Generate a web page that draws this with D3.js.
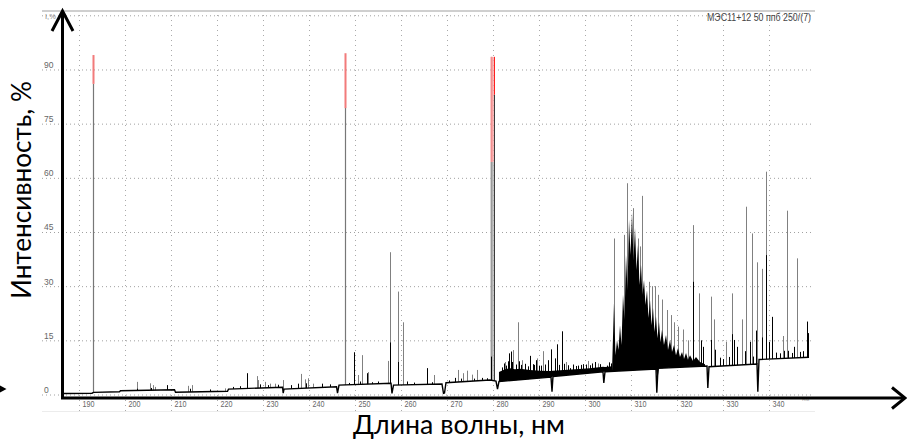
<!DOCTYPE html>
<html><head><meta charset="utf-8">
<script src="https://cdn.jsdelivr.net/npm/d3@7"></script>
<style>body{margin:0;background:#fff}svg{display:block}</style>
</head><body>
<svg id="c" width="907" height="439"></svg>
<script>
// ---- data (wavelength nm, intensity %) ----
const xTicks = [190,200,210,220,230,240,250,260,270,280,290,300,310,320,330,340];
const yTicks = [0,15,30,45,60,75,90];
const title = "МЭС11+12 50 ппб 250/(7)";
const yUnit = "I,%";
const xLabel = "Длина волны, нм";
const yLabel = "Интенсивность, %";

// continuum (baseline) of the spectrum
const baseline = [
 [186.74,0.28],[192.83,0.36],[193.15,0.6],[198.80,0.75],[199.02,1.05],[210.76,1.3],[210.98,0.64],
 [222.28,0.9],[222.50,1.5],[234.24,2.0],[234.39,0.4],[234.57,1.5],[245.98,2.15],[246.20,0.4],
 [246.52,2.6],[257.83,3.1],[258.04,0.33],[258.37,2.6],[268.91,2.9],[269.24,0.33],[269.46,0.4],
 [269.78,3.27],[279.35,4.0],[280.65,3.7],[280.98,1.5],[281.30,3.6],[292.61,4.8],[292.83,0.8],
 [293.04,5.0],[303.91,6.3],[304.09,3.2],[304.35,6.3],[315.43,7.06],[315.61,0.5],[315.87,7.25],
 [326.52,7.9],[326.70,1.8],[326.96,7.7],[337.39,8.45],[337.57,0.8],[337.83,9.7],[348.70,10.3]
];
// upper edge of dense weak lines 281–306 nm
const noiseTop = [
 [281.30,6.2],[282.61,7.0],[283.70,7.3],[284.78,7.0],[285.87,7.1],[288.04,6.8],[290.22,6.6],
 [292.39,6.5],[293.04,6.6],[294.57,6.7],[297.83,7.0],[301.09,7.3],[303.91,7.7],[304.35,7.6],[305.87,7.8]
];
// OH band envelope 306–326 nm
const ohBand = [
 [305.87,6.5],[306.30,25.3],[306.63,10.9],[306.96,15.1],[307.28,12.3],[307.61,19.2],[307.93,13.7],
 [308.26,27.6],[308.59,20.6],[308.91,38.6],[309.24,28.9],[309.57,48.3],[309.89,38.6],[310.22,50.3],
 [310.54,37.2],[310.87,46.1],[311.20,34.5],[311.52,41.4],[311.85,30.3],[312.17,35.9],[312.50,27.6],
 [312.83,31.7],[313.15,24.8],[313.48,28.9],[313.80,21.2],[314.13,26.2],[314.46,19.2],[314.78,24.0],
 [315.11,17.3],[315.43,21.7],[315.76,15.6],[316.09,20.1],[316.41,14.5],[316.74,17.9],[317.17,13.7],
 [317.61,16.5],[318.04,12.3],[318.48,15.1],[318.91,11.8],[319.35,13.7],[319.78,10.9],[320.22,12.9],
 [320.65,10.4],[321.09,11.8],[321.52,9.8],[321.96,11.5],[322.39,9.6],[322.83,10.9],[323.48,9.3],
 [324.13,10.4],[325.00,9.0],[326.09,8.4]
];
// lines of the grey spectrum
const grayPeaks = [
 [202.54,3.5],[205.43,3.1],[206.02,2.6],[206.52,2.1],[213.76,2.4],[214.50,2.6],[221.74,1.7],
 [228.63,5.1],[228.91,4.0],[230.43,3.5],[231.52,3.0],[232.61,3.0],[234.28,4.0],[238.20,5.7],
 [239.13,4.2],[239.85,4.5],[240.87,3.0],[250.72,5.4],[251.59,10.9],[252.89,6.2],[257.11,9.3],
 [257.61,39.4],[259.41,28.5],[260.50,20.0],[267.24,5.4],[272.46,6.8],[273.54,5.9],[274.28,6.6],
 [275.37,5.5],[276.59,6.8],[282.61,9.0],[284.41,12.3],[285.33,20.0],[286.30,9.5],[289.50,10.0],
 [290.93,12.0],[295.90,9.0],[300.60,9.3],[302.89,8.6],
 [306.37,43.2],[308.48,44.2],[309.07,58.5],[310.37,51.6],[311.59,43.2],[311.96,41.0],[312.33,55.0],
 [313.98,31.2],[314.57,30.0],[315.22,30.0],[315.93,27.6],[316.67,26.3],[317.76,23.4],[318.63,22.0],
 [319.35,20.0],[320.28,18.8],[321.37,18.0],[322.46,15.0],[323.41,46.9],[324.78,28.0],
 [327.39,27.1],[328.04,20.8],[330.65,14.6],[332.02,28.0],[334.20,20.8],[335.00,52.0],[336.20,44.6],
 [337.33,36.6],[338.41,34.8],[339.34,61.7],[343.11,16.2],[343.98,50.9],[346.15,37.7]
];
// lines of the black spectrum
const blackPeaks = [
 [202.70,1.6],[205.60,1.8],[209.07,2.6],[214.20,1.6],[218.50,1.4],[223.50,2.1],[225.10,2.3],
 [226.59,5.9],[229.40,2.8],[231.00,2.6],[233.20,2.7],[236.00,2.6],[237.50,3.0],[239.40,3.1],
 [242.83,3.0],[244.50,2.8],[248.60,3.2],[249.85,11.7],[251.00,3.6],[252.54,5.9],[253.80,3.4],
 [255.00,3.6],[257.61,14.4],[259.41,9.0],[261.20,3.6],[262.80,3.3],[265.59,7.3],[266.80,3.4],
 [270.50,3.9],[271.80,4.6],[273.00,4.4],[275.90,4.4],[277.50,4.6],[278.60,4.5],
 [279.62,10.5],[281.52,6.0],[282.00,7.5],[282.40,8.6],[282.90,8.0],[283.20,9.2],[283.54,11.4],
 [283.85,11.9],[284.20,9.0],[285.00,8.3],[285.60,9.2],[286.10,8.2],[286.90,8.5],[287.50,7.8],
 [288.04,10.7],[288.60,8.4],[289.00,8.2],[289.35,9.5],[289.90,7.9],[290.50,8.0],[291.20,8.3],
 [291.90,9.5],[292.54,12.5],[293.48,10.0],[293.98,13.9],[294.30,8.2],[295.00,17.5],[295.50,8.5],
 [296.20,8.1],[296.74,7.3],[297.40,8.3],[298.00,7.9],[298.50,8.0],[299.10,8.2],[299.60,8.4],
 [300.30,8.3],[301.00,8.1],[301.50,8.6],[302.20,9.0],[303.20,8.4],[304.80,8.0],[305.30,8.9],[305.70,8.6],
 [323.41,31.2],[325.20,15.0],[325.70,13.2],[327.39,15.1],[328.20,12.4],[329.30,10.2],[330.10,9.8],
 [331.20,10.4],[332.02,16.7],[332.45,15.1],[333.10,13.2],[334.70,12.0],[335.80,14.6],[336.60,10.5],
 [337.20,17.7],[338.50,15.8],[339.34,38.6],[340.00,14.6],[340.72,21.5],[341.60,11.6],[342.40,11.4],
 [343.20,12.1],[344.20,12.1],[345.00,11.5],[345.50,13.2],[346.70,11.8],[347.40,12.0],[348.20,20.2],[348.50,17.0]
];
// saturated lines: [wavelength, top, value where saturation (red) starts]
const saturated = [[193.09,94.0,86.0],[247.86,94.5,79.3]];
const mgDoublet = [[279.55,93.5,64.4],[280.27,93.5,83.0]];

// ---- drawing ----
const svg = d3.select('#c');
const x = d3.scaleLinear().domain([190,340]).range([79,769]);
const y = d3.scaleLinear().domain([0,105]).range([394.5,15.3]);
const px = w => Math.round(x(w)) + 0.5;
const bis = d3.bisector(d => d[0]).right;
const base = w => {
  const i = bis(baseline, w);
  if (i <= 0) return baseline[0][1];
  if (i >= baseline.length) return baseline[baseline.length-1][1];
  const a = baseline[i-1], b = baseline[i];
  return a[1] + (b[1]-a[1]) * (w-a[0]) / (b[0]-a[0]);
};

// frame
svg.append('line').attr('x1',42).attr('x2',815).attr('y1',11).attr('y2',11)
  .attr('stroke','#cfcfcf').attr('stroke-width',2);
svg.append('line').attr('x1',42).attr('x2',815).attr('y1',411.5).attr('y2',411.5)
  .attr('stroke','#ececec').attr('stroke-width',1);

// y grid + labels
const gy = svg.append('g').attr('transform','translate(42,0)')
  .call(d3.axisRight(y).tickValues(yTicks.concat([105])).tickSize(770).tickFormat(d3.format('d')));
gy.select('.domain').remove();
gy.selectAll('line').attr('stroke','#a0a0a0').attr('stroke-dasharray','1,3');
gy.selectAll('text').attr('x',2).attr('dy','-2').attr('text-anchor','start')
  .attr('font-family','Liberation Sans, Arial, sans-serif').attr('font-size',8.5).attr('fill','#666')
  .text(d => d === 105 ? '' : d);

// x grid + labels
const gx = svg.append('g').attr('transform','translate(0,15)')
  .call(d3.axisBottom(x).tickValues(xTicks).tickSize(396).tickFormat(d3.format('d')));
gx.select('.domain').remove();
gx.selectAll('line').attr('stroke','#aaaaaa').attr('stroke-dasharray','1,4');
gx.selectAll('text').attr('x',3).attr('y',392.3).attr('dy',0).attr('text-anchor','start')
  .attr('font-family','Liberation Sans, Arial, sans-serif').attr('font-size',8.5).attr('fill','#666')
  .attr('textLength',12).attr('lengthAdjust','spacingAndGlyphs');

// unit labels
svg.append('text').attr('x',45).attr('y',19).text(yUnit)
  .attr('font-family','Liberation Sans, Arial, sans-serif').attr('font-size',7.5).attr('fill','#888');
svg.append('text').attr('x',802).attr('y',401).text('нм')
  .attr('font-family','Liberation Sans, Arial, sans-serif').attr('font-size',6).attr('fill','#aaa');
// title
svg.append('text').attr('x',811).attr('y',20.5).attr('text-anchor','end').text(title)
  .attr('font-family','Liberation Sans, Arial, sans-serif').attr('font-size',10).attr('fill','#444')
  .attr('textLength',104).attr('lengthAdjust','spacingAndGlyphs');

// grey spectrum lines
svg.append('g').selectAll('line').data(grayPeaks).join('line')
  .attr('x1',d=>px(d[0])).attr('x2',d=>px(d[0]))
  .attr('y1',d=>y(base(d[0]))).attr('y2',d=>y(d[1]))
  .attr('stroke','#808080').attr('stroke-width',1);

// saturated lines (grey lower part, red saturated top)
const sg = svg.append('g');
sg.selectAll('line.low').data(saturated).join('line').attr('class','low')
  .attr('x1',d=>px(d[0])).attr('x2',d=>px(d[0]))
  .attr('y1',d=>y(base(d[0]))).attr('y2',d=>y(d[2]))
  .attr('stroke','#777').attr('stroke-width',1.2);
sg.selectAll('rect.hi').data(saturated).join('rect').attr('class','hi')
  .attr('x',d=>px(d[0])-1).attr('width',2)
  .attr('y',d=>y(d[1])).attr('height',d=>y(d[2])-y(d[1]))
  .attr('fill','#f27b7b');

// Mg doublet band
const m0 = mgDoublet[0], m1 = mgDoublet[1];
sg.append('rect').attr('x',x(m0[0])-0.5).attr('width',x(m1[0])-x(m0[0]))
  .attr('y',y(m0[1])).attr('height',y(m0[2])-y(m0[1])).attr('fill','#f6a5a5');
sg.append('rect').attr('x',x(m0[0])-0.5).attr('width',x(m1[0])-x(m0[0]))
  .attr('y',y(m0[2])).attr('height',y(base(m0[0]))-y(m0[2])).attr('fill','#b4b4b4');
sg.selectAll('line.mg').data(mgDoublet).join('line').attr('class','mg')
  .attr('x1',d=>px(d[0])).attr('x2',d=>px(d[0]))
  .attr('y1',d=>y(base(d[0]))).attr('y2',d=>y(d[2]))
  .attr('stroke',(d,i)=> i ? '#3a3a3a' : '#9a9a9a').attr('stroke-width',1);
sg.selectAll('line.mgr').data(mgDoublet).join('line').attr('class','mgr')
  .attr('x1',d=>px(d[0])).attr('x2',d=>px(d[0]))
  .attr('y1',d=>y(d[2])).attr('y2',d=>y(d[1]))
  .attr('stroke',(d,i)=> i ? '#ff2020' : '#f29090').attr('stroke-width',1);

// dense weak lines and OH band
const area = d3.area().x(d=>x(d[0])).y0(d=>y(base(d[0]))).y1(d=>y(d[1]));
svg.append('path').datum(noiseTop).attr('d',area).attr('fill','#000');
svg.append('path').datum(ohBand).attr('d',area).attr('fill','#000');

// black spectrum lines
svg.append('g').selectAll('line').data(blackPeaks).join('line')
  .attr('x1',d=>px(d[0])).attr('x2',d=>px(d[0]))
  .attr('y1',d=>y(base(d[0]))).attr('y2',d=>y(d[1]))
  .attr('stroke','#000').attr('stroke-width',1);

// baseline
svg.append('path').datum(baseline)
  .attr('d',d3.line().x(d=>x(d[0])).y(d=>y(d[1])))
  .attr('fill','none').attr('stroke','#000').attr('stroke-width',1.4);

// arrow axes
const ax = svg.append('g').attr('stroke','#000').attr('fill','none').attr('stroke-width',3);
ax.append('line').attr('x1',62.5).attr('x2',62.5).attr('y1',399).attr('y2',11);
ax.append('polyline').attr('points','52,31 62.5,11 73,31');
ax.append('line').attr('x1',61).attr('x2',904).attr('y1',398).attr('y2',398);
ax.append('polyline').attr('points','892,387.5 905,398 892,408.5');
svg.append('polygon').attr('points','0,385.5 6.5,389 0,392.5').attr('fill','#000');

// axis titles (fit to reference widths)
const fit = (sel, target) => {
  const w = sel.node().getComputedTextLength();
  const fs = parseFloat(sel.attr('font-size'));
  sel.attr('font-size', fs * target / w);
};
const xt = svg.append('text').attr('x',459).attr('y',434).attr('text-anchor','middle')
  .attr('font-family','Lato, sans-serif').attr('font-size',24).attr('fill','#000').text(xLabel);
fit(xt, 212);
const yt = svg.append('text').attr('transform','translate(31,190) rotate(-90)').attr('text-anchor','middle')
  .attr('font-family','Lato, sans-serif').attr('font-size',24).attr('fill','#000').text(yLabel);
fit(yt, 218);
</script>
</body></html>
